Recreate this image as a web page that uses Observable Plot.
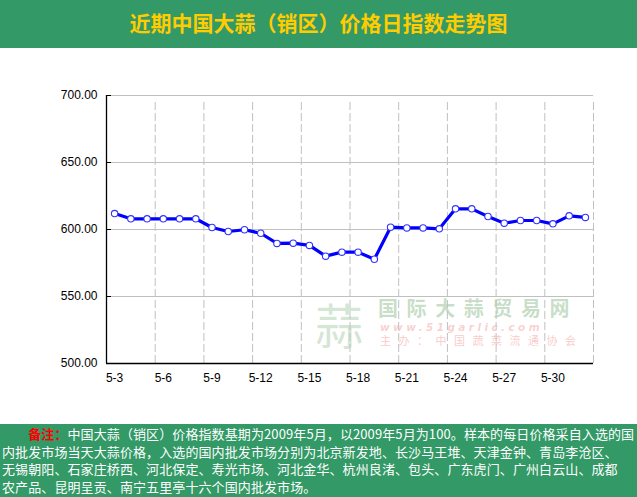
<!DOCTYPE html>
<html>
<head>
<meta charset="utf-8">
<script src="https://cdn.jsdelivr.net/npm/d3@7"></script>
<script src="https://cdn.jsdelivr.net/npm/@observablehq/plot@0.6"></script>
<style>
  html, body { margin: 0; padding: 0; background: #fff; width: 637px; height: 497px; overflow: hidden; }
  #header { height: 48px; background: rgb(51,153,102); color: #ffcc00; font-family: "Noto Sans CJK SC", sans-serif; font-weight: bold; font-size: 21px; text-align: center; line-height: 44px; }
  #chart { position: relative; height: 376px; }
  #chart svg { position: absolute; left: 0; top: 0; }
  .wm { position: absolute; white-space: nowrap; font-family: "Noto Sans CJK SC", sans-serif; pointer-events: none; }
  #footer { height: 73px; background: rgb(51,153,102); color: #fff; font-family: "Noto Sans CJK SC", sans-serif; font-size: 13px; letter-spacing: 0.1px; line-height: 17.5px; padding: 1px 0 0 2px; box-sizing: border-box; }
  #footer div { white-space: nowrap; }
  #footer .note { color: #ff0000; font-weight: bold; }
</style>
</head>
<body>
<div id="header">近期中国大蒜（销区）价格日指数走势图</div>
<div id="chart">
  <div class="wm" style="left:315px;top:250px;font-size:48px;line-height:50px;color:rgba(120,175,120,0.32);">蒜</div>
  <div class="wm" style="left:378px;top:250px;font-size:20px;line-height:20px;color:rgba(120,175,120,0.42);font-weight:bold;letter-spacing:8.6px;">国际大蒜贸易网</div>
  <div class="wm" style="left:380px;top:274px;font-size:10.5px;line-height:10.5px;color:rgba(240,120,120,0.35);font-style:italic;font-weight:bold;font-family:'DejaVu Sans';letter-spacing:3.4px;">www.51garlic.com</div>
  <div class="wm" style="left:380px;top:287px;font-size:11px;line-height:11px;color:rgba(240,120,120,0.4);letter-spacing:7.5px;">主办：中国蔬菜流通协会</div>
</div>
<div id="footer">
  <div>&#12288;&#12288;<span class="note">备注：</span>中国大蒜（销区）价格指数基期为2009年5月，以2009年5月为100。样本的每日价格采自入选的国</div>
  <div>内批发市场当天大蒜价格，入选的国内批发市场分别为北京新发地、长沙马王堆、天津金钟、青岛李沧区、</div>
  <div>无锡朝阳、石家庄桥西、河北保定、寿光市场、河北金华、杭州良渚、包头、广东虎门、广州白云山、成都</div>
  <div>农产品、昆明呈贡、南宁五里亭十六个国内批发市场。</div>
</div>
<script>
const dates = ["5-3","5-4","5-5","5-6","5-7","5-8","5-9","5-10","5-11","5-12",
  "5-13","5-14","5-15","5-16","5-17","5-18","5-19","5-20","5-21","5-22",
  "5-23","5-24","5-25","5-26","5-27","5-28","5-29","5-30","5-31","6-1"];
const values = [611.9,608.0,608.0,608.0,608.0,608.0,601.5,598.5,599.8,597.2,
  589.6,589.8,588.1,580.1,583.1,583.1,577.8,601.7,601.2,601.2,
  600.5,615.4,615.4,609.7,604.7,606.7,606.7,604.2,610.2,609.0];
const xTickLabels = ["5-3","5-6","5-9","5-12","5-15","5-18","5-21","5-24","5-27","5-30"];
const yTicks = [500,550,600,650,700];

const data = dates.map((d, i) => ({i, date: d, value: values[i]}));
const xTickIdx = xTickLabels.map(l => dates.indexOf(l));
const boundaries = xTickIdx.slice(1).map(i => i - 0.5).concat([dates.length - 0.5]);
const yMin = yTicks[0], yMax = yTicks[yTicks.length - 1];

const plot = Plot.plot({
  width: 637,
  height: 376,
  marginTop: 47,
  marginBottom: 61,
  marginLeft: 106,
  marginRight: 44,
  style: {fontFamily: "'Liberation Sans', Arial, sans-serif", fontSize: "12px", color: "#000", background: "transparent"},
  x: {domain: [-0.5, dates.length - 0.5]},
  y: {domain: [yMin, yMax]},
  marks: [
    Plot.ruleY(yTicks.slice(1), {stroke: "#c0c0c0", strokeWidth: 1, strokeOpacity: 1}),
    Plot.ruleX(boundaries, {y1: yMin, y2: yMax, insetBottom: -4, stroke: "#c0c0c0", strokeWidth: 1, strokeDasharray: "8,3"}),
    Plot.ruleY([yMin], {stroke: "#000", strokeWidth: 1.3}),
    Plot.ruleX([-0.5], {y1: yMin, y2: yMax, stroke: "#000", strokeWidth: 1.3}),
    Plot.axisY({ticks: yTicks, tickSize: 0, tickPadding: 9, tickFormat: d3.format(".2f"), label: null}),
    Plot.axisY({ticks: yTicks, tickSize: -5, tickFormat: () => "", label: null, stroke: "#000"}),
    Plot.axisX({ticks: xTickIdx, tickSize: 0, tickPadding: 10, tickFormat: i => dates[i], label: null}),
    Plot.line(data, {x: "i", y: "value", stroke: "#0000ff", strokeWidth: 3.2}),
    Plot.dot(data, {x: "i", y: "value", r: 3.2, fill: "#fff", stroke: "#3333ff", strokeWidth: 1.1})
  ]
});
document.getElementById("chart").appendChild(plot);
</script>
</body>
</html>
